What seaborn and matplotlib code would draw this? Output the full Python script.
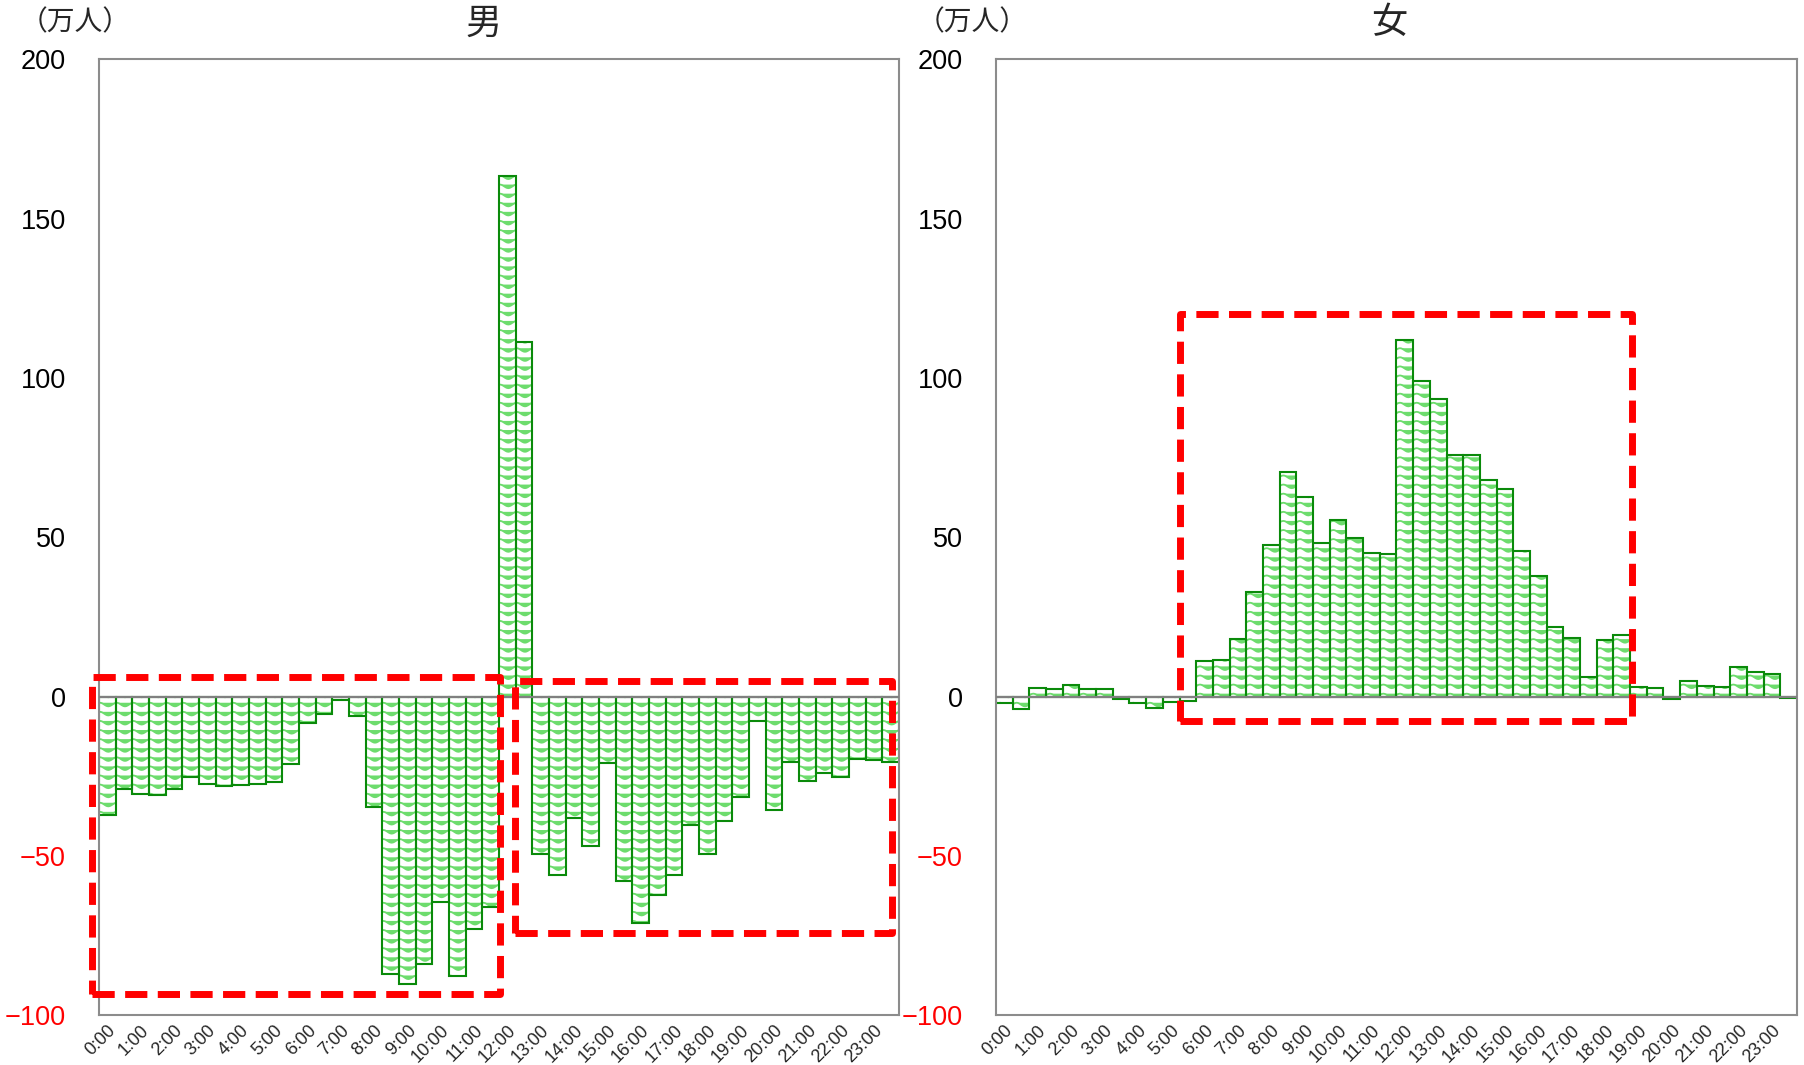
import numpy as np
import pandas as pd
import seaborn as sns
import matplotlib.pyplot as plt
import matplotlib.hatch as mhatch
from matplotlib.path import Path
from matplotlib.patches import Rectangle

# half-hour slots, labelled every hour
hours = ["0:00", "1:00", "2:00", "3:00", "4:00", "5:00", "6:00", "7:00",
         "8:00", "9:00", "10:00", "11:00", "12:00", "13:00", "14:00", "15:00",
         "16:00", "17:00", "18:00", "19:00", "20:00", "21:00", "22:00", "23:00"]
slots = [s for h in hours for s in (h, h.replace(":00", ":30"))]

# change in people (10k), men
male = [-37, -29, -30.4, -30.9, -28.9, -25.3, -27.3, -27.9, -27.6, -27.4, -26.9, -21.1,
        -8.2, -5.5, -1.2, -6.0, -34.6, -87.2, -90.1, -83.9, -64.3, -87.8, -72.8, -66.1,
        163.5, 111.2, -49.5, -56.0, -38.0, -46.9, -20.8, -57.8, -71.1, -62.2, -55.9, -40.4,
        -49.3, -39.1, -31.6, -7.5, -35.6, -20.6, -26.4, -24.1, -25.1, -19.5, -20.0, -20.5]

# change in people (10k), women
female = [-2.1, -3.8, 2.7, 2.4, 3.7, 2.3, 2.3, -0.8, -2.0, -3.5, -1.8, -1.3,
          11.2, 11.6, 18.2, 32.8, 47.6, 70.5, 62.7, 48.3, 55.4, 49.9, 45.2, 44.9,
          111.9, 99.1, 93.4, 76.0, 75.8, 68.0, 65.1, 45.8, 37.8, 21.9, 18.3, 6.2,
          17.8, 19.4, 3.1, 2.7, -0.8, 4.9, 3.3, 3.1, 9.2, 7.7, 7.1, -0.4]

yticks = [-100, -50, 0, 50, 100, 150, 200]


# wavy hatch in place of the plain horizontal one
class WaveHatch(mhatch.HatchPatternBase):
    pts = 73

    def __init__(self, hatch, density):
        self.num_lines = int((hatch.count('-') + hatch.count('+')) * density * 11 / 12)
        self.num_vertices = self.num_lines * self.pts

    def set_vertices_and_codes(self, vertices, codes):
        steps, stepsize = np.linspace(0.0, 1.0, self.num_lines, False, retstep=True)
        steps += stepsize / 2.
        xs = np.linspace(0.0, 1.0, self.pts)
        wave = 0.018 * np.cos(2 * np.pi * 6 * xs)
        for i, s in enumerate(steps):
            seg = slice(i * self.pts, (i + 1) * self.pts)
            vertices[seg, 0] = xs
            vertices[seg, 1] = s + wave
            codes[seg] = Path.LINETO
            codes[i * self.pts] = Path.MOVETO


mhatch._hatch_types[mhatch._hatch_types.index(mhatch.HorizontalHatch)] = WaveHatch

sns.set_style("white")
plt.rcParams['font.family'] = ['Liberation Sans', 'Noto Sans CJK JP']
plt.rcParams['hatch.linewidth'] = 1.3

light = '#6ddc6d'
dark = '#0a8a0a'
grey = '#8c8c8c'

fig = plt.figure(figsize=(18.04, 10.65), dpi=100)
ax_m = fig.add_axes([0.0549, 0.0467, 0.4435, 0.8975])
ax_f = fig.add_axes([0.5521, 0.0467, 0.4440, 0.8975])

df = pd.DataFrame({'slot': slots, 'male': male, 'female': female})

for ax, col in [(ax_m, 'male'), (ax_f, 'female')]:
    sns.barplot(data=df, x='slot', y=col, ax=ax, color='white', width=1.0,
                saturation=1, edgecolor=light, linewidth=0)
    for p in ax.patches:
        p.set_hatch('--')
    sns.barplot(data=df, x='slot', y=col, ax=ax, color=dark, width=1.0,
                saturation=1, fill=False, linewidth=1.5)
    ax.axhline(0, color='#808080', lw=1.6, zorder=4)
    ax.set_xlim(-0.5, len(slots) - 0.5)
    ax.set_ylim(-100, 200)
    ax.set_yticks(yticks)
    ax.set_xticks(range(0, len(slots), 2))
    ax.set_xticklabels(hours, rotation=45, ha='right', rotation_mode='anchor')
    ax.set_xlabel('')
    ax.set_ylabel('')
    ax.tick_params(axis='x', length=0, labelsize=13, pad=5)
    ax.tick_params(axis='y', direction='in', length=6, width=1.2, color=grey,
                   labelsize=19.5, pad=24)
    for lbl, v in zip(ax.get_yticklabels(), yticks):
        lbl.set_color('red' if v < 0 else 'black')
    for s in ax.spines.values():
        s.set_color(grey)
        s.set_linewidth(1.5)

# highlighted ranges
box = dict(fill=False, ec='#ff0000', lw=5, ls=(0, (3.2, 1.5)), clip_on=False,
           zorder=6, joinstyle='round')
ax_m.add_patch(Rectangle((-0.94, -93.2), 24.5, 99.4, **box))
ax_m.add_patch(Rectangle((24.45, -74.3), 22.65, 79.3, **box))
ax_f.add_patch(Rectangle((10.52, -7.6), 27.1, 127.7, **box))

fig.text(0.268, 0.977, '男', fontsize=26, ha='center', va='center')
fig.text(0.770, 0.978, '女', fontsize=26, ha='center', va='center')
fig.text(0.0415, 0.978, '（万人）', fontsize=20, ha='center', va='center')
fig.text(0.539, 0.978, '（万人）', fontsize=20, ha='center', va='center')

fig.savefig('out.png', dpi=100)
